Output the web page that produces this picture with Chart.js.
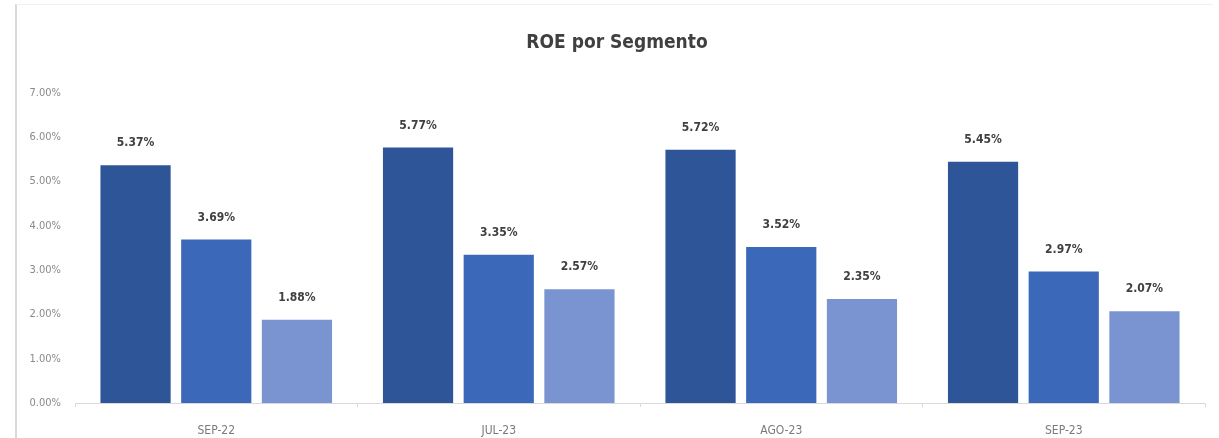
<!DOCTYPE html>
<html>
<head>
<meta charset="utf-8">
<script src="https://cdn.jsdelivr.net/npm/chart.js@4/dist/chart.umd.min.js"></script>
<style>
  html, body { margin: 0; padding: 0; background: #fff; }
  #wrap { position: relative; width: 1219px; height: 438px; }
  #frame {
    position: absolute; left: 15px; top: 4px; width: 1196px; height: 440px;
    border-left: 2px solid #d9d9d9; border-top: 1px solid #f0f0f0;
    pointer-events: none;
  }
</style>
</head>
<body>
<div id="wrap">
  <canvas id="roeChart" width="1219" height="438"></canvas>
  <div id="frame"></div>
</div>
<script>
const chartTitle = "ROE por Segmento";
const periodLabels = ["SEP-22", "JUL-23", "AGO-23", "SEP-23"];
const segmentNames = ["Segmento 1", "Segmento 2", "Segmento 3"];
const segment1 = [5.37, 5.77, 5.72, 5.45];
const segment2 = [3.69, 3.35, 3.52, 2.97];
const segment3 = [1.88, 2.57, 2.35, 2.07];
const yTicks = [0, 1, 2, 3, 4, 5, 6, 7];

const barColors = ["#2e5597", "#3c68b9", "#7a93d1"];
const fontFamily = "'DejaVu Sans Condensed', 'DejaVu Sans', sans-serif";

// Title sits a bit right of the canvas centre, like the original
const titlePlugin = {
  id: "titleText",
  afterDraw(chart) {
    const ctx = chart.ctx;
    ctx.save();
    ctx.font = "bold 19px " + fontFamily;
    ctx.fillStyle = "#404040";
    ctx.textAlign = "center";
    ctx.textBaseline = "middle";
    ctx.fillText(chartTitle, 617, 43);
    ctx.restore();
  },
};

// Draw the value labels above each bar
const valueLabels = {
  id: "valueLabels",
  afterDatasetsDraw(chart) {
    const ctx = chart.ctx;
    ctx.save();
    ctx.font = "bold 12px " + fontFamily;
    ctx.fillStyle = "#404040";
    ctx.textAlign = "center";
    ctx.textBaseline = "middle";
    chart.data.datasets.forEach((ds, i) => {
      chart.getDatasetMeta(i).data.forEach((bar, j) => {
        ctx.fillText(ds.data[j].toFixed(2) + "%", bar.x, bar.y - 22);
      });
    });
    ctx.restore();
  },
};

const ctx = document.getElementById("roeChart").getContext("2d");
new Chart(ctx, {
  type: "bar",
  data: {
    labels: periodLabels,
    datasets: [segment1, segment2, segment3].map((values, i) => ({
      label: segmentNames[i],
      data: values,
      backgroundColor: barColors[i],
      categoryPercentage: 0.857,
      barPercentage: 0.87,
    })),
  },
  options: {
    responsive: false,
    animation: false,
    layout: { padding: { left: 0, right: 14, top: 93, bottom: 0 } },
    scales: {
      x: {
        grid: {
          display: true,
          drawOnChartArea: false,
          offset: true,
          tickLength: 4,
          color: "#d9d9d9",
        },
        border: { display: true, color: "#d9d9d9" },
        ticks: {
          color: "#7a7a7a",
          padding: 17,
          font: { family: fontFamily, size: 12 },
        },
        afterFit(scale) {
          scale.height = 35;
        },
      },
      y: {
        min: 0,
        max: 7,
        afterBuildTicks(scale) {
          scale.ticks = yTicks.map((v) => ({ value: v }));
        },
        grid: { display: false },
        border: { display: false },
        ticks: {
          color: "#8a8a8a",
          padding: 6,
          font: { family: fontFamily, size: 11 },
          callback: function (value) {
            return value.toFixed(2) + "%";
          },
        },
        afterFit(scale) {
          scale.width = 75;
        },
      },
    },
    plugins: {
      legend: { display: false },
      tooltip: { enabled: false },
      title: { display: false },
    },
  },
  plugins: [valueLabels, titlePlugin],
});
</script>
</body>
</html>
